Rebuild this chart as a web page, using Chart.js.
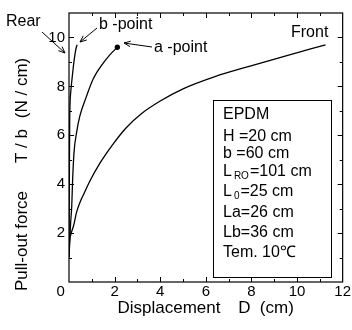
<!DOCTYPE html>
<html>
<head>
<meta charset="utf-8">
<script src="https://cdn.jsdelivr.net/npm/chart.js@4.4.0/dist/chart.umd.min.js"></script>
<style>
html, body { margin: 0; padding: 0; background: #fff; }
</style>
</head>
<body>
<canvas id="pullChart" width="352" height="330"></canvas>
<script>
// Pull-out force vs displacement (EPDM)
const frontX = [0, 0.02, 0.1, 0.2, 0.33, 0.5, 0.65, 0.9, 1.35, 1.9, 2.5, 3.2, 4.0, 5.0, 6.4, 7.9, 9.4, 11.25];
const frontY = [1.2, 1.6, 2.0, 2.3, 2.85, 3.3, 3.6, 4.1, 4.85, 5.6, 6.3, 6.9, 7.4, 7.9, 8.4, 8.82, 9.22, 9.7];

const aX = [0, 0.03, 0.07, 0.12, 0.16, 0.22, 0.33, 0.48, 0.77, 1.06, 1.5, 1.8, 2.12];
const aY = [1.0, 1.6, 2.4, 3.1, 4.2, 5.3, 6.1, 6.8, 7.6, 8.3, 8.95, 9.3, 9.6];

const rearX = [0, 0.01, 0.02, 0.03, 0.05, 0.08, 0.12, 0.19, 0.26, 0.32, 0.36];
const rearY = [1.0, 3.0, 5.0, 6.5, 7.4, 7.8, 8.2, 8.8, 9.3, 9.6, 9.7];

const xTicks = [0, 2, 4, 6, 8, 10, 12];
const yTicks = [2, 4, 6, 8, 10];

const boxLines = ["EPDM", "H =20 cm", "b =60 cm", "L|RO|=101 cm", "L|0|=25 cm", "La=26 cm", "Lb=36 cm", "Tem. 10\u2103"];

const FONT = "'Liberation Sans', Arial, Helvetica, sans-serif";

function pts(xs, ys) {
    return xs.map((x, i) => ({ x: x, y: ys[i] }));
}

function arrow(ctx, x1, y1, x2, y2) {
    ctx.beginPath();
    ctx.moveTo(x1, y1);
    ctx.lineTo(x2, y2);
    const ang = Math.atan2(y2 - y1, x2 - x1);
    const L = 7;
    ctx.moveTo(x2 - L * Math.cos(ang - 0.4), y2 - L * Math.sin(ang - 0.4));
    ctx.lineTo(x2, y2);
    ctx.lineTo(x2 - L * Math.cos(ang + 0.4), y2 - L * Math.sin(ang + 0.4));
    ctx.stroke();
}

const decor = {
    id: "decor",
    afterDraw(chart) {
        const ctx = chart.ctx;
        const a = chart.chartArea;
        const xs = chart.scales.x, ys = chart.scales.y;
        ctx.save();
        ctx.strokeStyle = "#000";
        ctx.fillStyle = "#000";
        ctx.lineWidth = 1.2;
        // frame
        ctx.strokeRect(a.left, a.top, a.right - a.left, a.bottom - a.top);
        // inward ticks on all sides
        ctx.lineWidth = 1;
        ctx.beginPath();
        for (let v = 1; v < 12; v++) {
            const p = Math.round(xs.getPixelForValue(v)) + 0.5;
            const len = v % 2 === 0 ? 5 : 3;
            ctx.moveTo(p, a.bottom); ctx.lineTo(p, a.bottom - len);
            ctx.moveTo(p, a.top); ctx.lineTo(p, a.top + len);
        }
        for (let v = 1; v <= 10; v++) {
            const p = Math.round(ys.getPixelForValue(v)) + 0.5;
            const len = v % 2 === 0 ? 5 : 3;
            ctx.moveTo(a.left, p); ctx.lineTo(a.left + len, p);
            ctx.moveTo(a.right, p); ctx.lineTo(a.right - len, p);
        }
        ctx.stroke();

        // axis titles
        ctx.font = "17px " + FONT;
        ctx.textAlign = "center";
        ctx.textBaseline = "middle";
        ctx.fillText("Displacement", 169, 308);
        ctx.fillText("D  (cm)", 266, 308);
        ctx.save();
        ctx.translate(22, 0);
        ctx.rotate(-Math.PI / 2);
        ctx.fillText("Pull-out force", -241, 0);
        ctx.fillText("T / b", -146, 0);
        ctx.fillText("(N / cm)", -88, 0);
        ctx.restore();

        // annotations
        ctx.font = "16px " + FONT;
        ctx.textAlign = "left";
        ctx.fillText("Rear", 6, 22);
        ctx.fillText("b -point", 99, 25);
        ctx.fillText("a -point", 154, 48);
        ctx.fillText("Front", 291, 33);
        ctx.lineWidth = 1;
        arrow(ctx, 42, 32, 65, 53);
        arrow(ctx, 97, 28, 80, 42);
        arrow(ctx, 152, 47, 124, 43);

        // parameter box
        ctx.fillStyle = "#fff";
        ctx.fillRect(213, 100, 119, 178);
        ctx.fillStyle = "#000";
        ctx.strokeRect(213.5, 100.5, 118, 177);
        const rows = [115, 137, 154, 172, 192, 213, 233, 253];
        boxLines.forEach((line, i) => {
            const parts = line.split("|");
            let x = 223;
            const y = rows[i];
            if (parts.length === 3) {
                ctx.font = "16px " + FONT;
                ctx.fillText(parts[0], x, y);
                x += ctx.measureText(parts[0]).width + 2;
                ctx.font = "10px " + FONT;
                ctx.fillText(parts[1], x, y + 4);
                x += ctx.measureText(parts[1]).width + 1;
                ctx.font = "16px " + FONT;
                ctx.fillText(parts[2], x, y);
            } else {
                ctx.font = "16px " + FONT;
                ctx.fillText(line, x, y);
            }
        });
        ctx.restore();
    }
};

const lineStyle = {
    borderColor: "#000",
    backgroundColor: "#000",
    borderWidth: 1.3,
    showLine: true,
    fill: false,
    cubicInterpolationMode: "monotone"
};

new Chart(document.getElementById("pullChart"), {
    type: "scatter",
    data: {
        datasets: [
            Object.assign({ label: "Front", data: pts(frontX, frontY), pointRadius: 0 }, lineStyle),
            Object.assign({
                label: "a", data: pts(aX, aY),
                pointRadius: c => c.dataIndex === aX.length - 1 ? 2 : 0
            }, lineStyle),
            Object.assign({ label: "Rear", data: pts(rearX, rearY), pointRadius: 0 }, lineStyle)
        ]
    },
    options: {
        responsive: false,
        animation: false,
        layout: { padding: { left: 0, right: 9, top: 10, bottom: 0 } },
        plugins: { legend: { display: false }, tooltip: { enabled: false } },
        scales: {
            x: {
                type: "linear", min: 0, max: 12,
                grid: { display: false, drawTicks: false },
                border: { display: false },
                afterBuildTicks: s => { s.ticks = xTicks.map(v => ({ value: v })); },
                ticks: {
                    autoSkip: false, maxRotation: 0, padding: 1, color: "#000",
                    font: { family: FONT, size: 15 },
                    callback: v => v === 0 ? "0    " : String(v)
                },
                afterFit: s => { s.height = 48; }
            },
            y: {
                type: "linear", min: 0, max: 11,
                grid: { display: false, drawTicks: false },
                border: { display: false },
                afterBuildTicks: s => { s.ticks = yTicks.map(v => ({ value: v })); },
                ticks: {
                    autoSkip: false, padding: 4, color: "#000",
                    font: { family: FONT, size: 15 }
                },
                afterFit: s => { s.width = 69; }
            }
        }
    },
    plugins: [decor]
});
</script>
</body>
</html>
